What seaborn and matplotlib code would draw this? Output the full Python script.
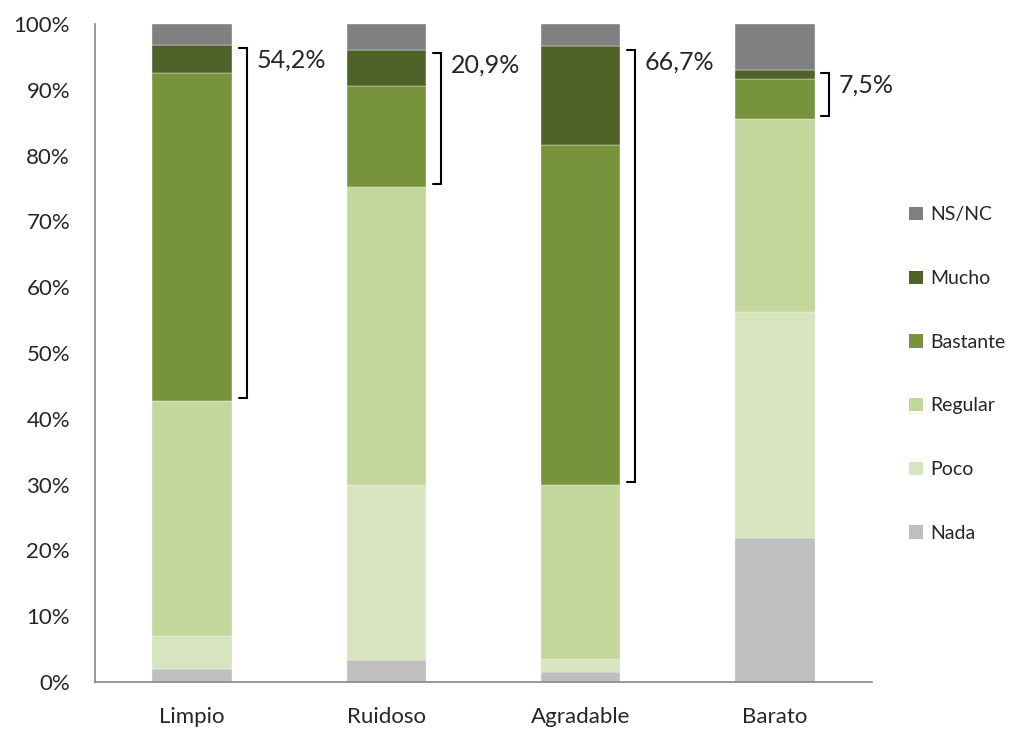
import matplotlib
matplotlib.use("Agg")
import matplotlib.pyplot as plt
import numpy as np
import pandas as pd
import seaborn as sns
from matplotlib.patches import Patch

# data (percent of answers)
categorias = ["Limpio", "Ruidoso", "Agradable", "Barato"]
niveles = ["Nada", "Poco", "Regular", "Bastante", "Mucho", "NS/NC"]
nada = [2.0, 3.3, 1.5, 21.9]
poco = [5.0, 26.6, 2.0, 34.3]
regular = [35.7, 45.3, 26.4, 29.4]
bastante = [49.8, 15.4, 51.7, 6.0]
mucho = [4.4, 5.5, 15.0, 1.5]
nsnc = [3.1, 3.9, 3.4, 6.9]
etiquetas = ["54,2%", "20,9%", "66,7%", "7,5%"]

colores = {"Nada": "#BFBFBF", "Poco": "#D7E4BD", "Regular": "#C3D69B",
           "Bastante": "#77933C", "Mucho": "#4F6228", "NS/NC": "#808080"}

df = pd.DataFrame({"cat": categorias, "Nada": nada, "Poco": poco, "Regular": regular,
                   "Bastante": bastante, "Mucho": mucho, "NS/NC": nsnc})

sns.set_style("white")
plt.rcParams["font.family"] = ["Lato", "DejaVu Sans"]

fig = plt.figure(figsize=(10.11, 7.31), dpi=100)
ax = fig.add_axes([0.094, 0.067, 0.7685, 0.9])

base = np.zeros(len(categorias))
for nivel in niveles:
    sns.barplot(x=df["cat"], y=df[nivel], bottom=base, color=colores[nivel],
                saturation=1, width=0.41, ax=ax, edgecolor="#F2F2F2", linewidth=0.3)
    base = base + df[nivel].to_numpy()

# brackets over Bastante + Mucho
abajo = df["Nada"] + df["Poco"] + df["Regular"]
arriba = abajo + df["Bastante"] + df["Mucho"]
for i in range(len(categorias)):
    x0 = i + 0.24
    x1 = i + 0.28
    y0, y1 = abajo[i] + 0.5, arriba[i] - 0.5
    ax.plot([x0, x1, x1, x0], [y1, y1, y0, y0], color="black", lw=1.5,
            solid_joinstyle="miter", clip_on=False)
    ax.text(x1 + 0.05, y1 - 1.8, etiquetas[i], fontsize=18, va="center", ha="left")

ax.set_xlim(-0.5, 3.5)
ax.set_ylim(0, 100)
ax.set_yticks(np.arange(0, 101, 10))
ax.set_yticklabels([f"{v}%" for v in range(0, 101, 10)], fontsize=16)
ax.set_xticks(range(4))
ax.set_xticklabels(categorias, fontsize=16)
ax.set_xticks(np.arange(-0.5, 4, 1), minor=True)
ax.tick_params(axis="x", which="major", length=0, pad=18)
ax.tick_params(axis="x", which="minor", length=7, width=1, color="#868686", direction="out")
ax.tick_params(axis="y", length=8, width=1, color="#868686", direction="out", pad=10)
ax.set_xlabel("")
ax.set_ylabel("")

for s in ["top", "right"]:
    ax.spines[s].set_visible(False)
for s in ["left", "bottom"]:
    ax.spines[s].set_color("#868686")
    ax.spines[s].set_linewidth(1.2)

handles = [Patch(facecolor=colores[n], edgecolor="none") for n in niveles[::-1]]
ax.legend(handles, niveles[::-1], loc="center left", bbox_to_anchor=(1.025, 0.468),
          frameon=False, fontsize=14, labelspacing=2.4, handlelength=0.7,
          handleheight=0.7, handletextpad=0.4)

fig.savefig("out.png", dpi=100)
